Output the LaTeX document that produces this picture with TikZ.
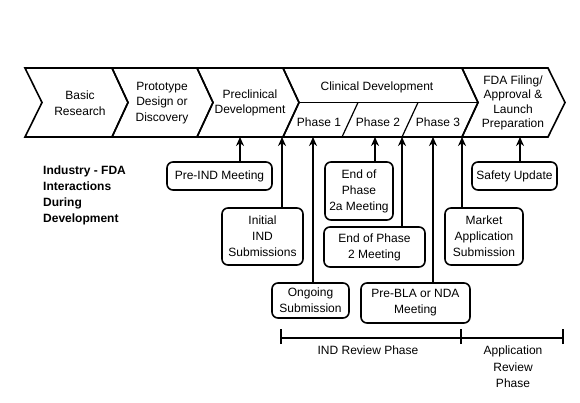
\documentclass[tikz,border=0pt]{standalone}
\usepackage{fontspec}
\setmainfont{Liberation Sans}
\usetikzlibrary{arrows.meta}
\begin{document}
\begin{tikzpicture}[x=1pt,y=-1pt,
  band/.style={draw=black,line width=1.6pt,line join=miter},
  lbl/.style={inner sep=0pt,align=center,font=\fontsize{12}{15.5}\selectfont},
  box/.style={draw=black,line width=1.6pt,rounded corners=6pt,inner sep=0pt,align=center,font=\fontsize{12}{16}\selectfont},
  arr/.style={line width=1.6pt,-{Stealth[length=9pt,width=8pt]}},
  tl/.style={line width=1.4pt}]
\useasboundingbox (0,0) rectangle (580,402);
% chevrons
\draw[band] (25,68) -- (112,68) -- (128,102.5) -- (112,137) -- (25,137) -- (42,102.5) -- cycle;
\draw[band] (112,68) -- (197,68) -- (213,102.5) -- (197,137) -- (112,137) -- (128,102.5) -- cycle;
\draw[band] (197,68) -- (283,68) -- (299,102.5) -- (283,137) -- (197,137) -- (213,102.5) -- cycle;
\draw[band] (283,68) -- (462,68) -- (478,102.5) -- (462,137) -- (283,137) -- (299,102.5) -- cycle;
\draw[band] (462,68) -- (548,68) -- (565,102.5) -- (548,137) -- (462,137) -- (478,102.5) -- cycle;
% clinical subdivisions
\draw[line width=1.2pt] (299,102.5) -- (478,102.5);
\draw[line width=1.2pt] (358,102.5) -- (342,137);
\draw[line width=1.2pt] (418,102.5) -- (402,137);
% chevron labels
\node[lbl] (basic) at (80,103) {Basic\\Research};
\node[lbl] (proto) at (162,103) {Prototype\\Design or\\Discovery};
\node[lbl] (precl) at (250,103) {Preclinical\\Development};
\node[lbl] (clin) at (377,87) {Clinical Development};
\node[lbl] (ph1) at (319,122) {Phase 1};
\node[lbl] (ph2) at (378,122) {Phase 2};
\node[lbl] (ph3) at (438,122) {Phase 3};
\node[lbl,font=\fontsize{12}{14.5}\selectfont] (fda) at (513,103) {FDA Filing/\\Approval \&\\Launch\\Preparation};
% left title
\node[inner sep=0pt,anchor=north west,align=left,font=\fontsize{12}{16}\selectfont\bfseries] (title) at (43,166) {Industry - FDA\\Interactions\\During\\Development};
% boxes
\node[box,minimum width=105pt,minimum height=28pt] (preind) at (219.5,176) {Pre-IND Meeting};
\node[box,minimum width=81pt,minimum height=57pt] (initial) at (262.5,236.5) {Initial\\IND\\Submissions};
\node[box,minimum width=77pt,minimum height=35pt] (ongoing) at (310.5,300.5) {Ongoing\\Submission};
\node[box,minimum width=68pt,minimum height=58pt] (eop2a) at (359,191) {End of\\Phase\\2a Meeting};
\node[box,minimum width=101pt,minimum height=40pt] (eop2) at (374.5,247) {End of Phase\\2 Meeting};
\node[box,minimum width=109pt,minimum height=40pt] (prebla) at (415.5,303) {Pre-BLA or NDA\\Meeting};
\node[box,minimum width=78pt,minimum height=57pt] (market) at (484,236.5) {Market\\Application\\Submission};
\node[box,minimum width=85pt,minimum height=28pt] (safety) at (514.5,176) {Safety Update};
% arrow targets on band bottom
\coordinate (t1) at (240,137);
\coordinate (t2) at (282,137);
\coordinate (t3) at (313,137);
\coordinate (t4) at (375,137);
\coordinate (t5) at (402,137);
\coordinate (t6) at (433,137);
\coordinate (t7) at (462,137);
\coordinate (t8) at (520,137);
\draw[arr] (preind.north -| t1) -- (t1);
\draw[arr] (initial.north -| t2) -- (t2);
\draw[arr] (ongoing.north -| t3) -- (t3);
\draw[arr] (eop2a.north -| t4) -- (t4);
\draw[arr] (eop2.north -| t5) -- (t5);
\draw[arr] (prebla.north -| t6) -- (t6);
\draw[arr] (market.north -| t7) -- (t7);
\draw[arr] (safety.north -| t8) -- (t8);
% timeline
\coordinate (r0) at (281,338);
\coordinate (r1) at (461,338);
\coordinate (r2) at (563,338);
\draw[tl] (r0) -- (r2);
\draw[tl] ([yshift=-6pt]r0) -- ([yshift=9pt]r0);
\draw[tl] ([yshift=-6pt]r1) -- ([yshift=9pt]r1);
\draw[tl] ([yshift=-6pt]r2) -- ([yshift=9pt]r2);
\node[lbl,anchor=north,font=\fontsize{12}{16.5}\selectfont] (indrev) at (368,346) {IND Review Phase};
\node[lbl,anchor=north,font=\fontsize{12}{16.5}\selectfont] (apprev) at (513,346) {Application\\Review\\Phase};
\end{tikzpicture}
\end{document}
